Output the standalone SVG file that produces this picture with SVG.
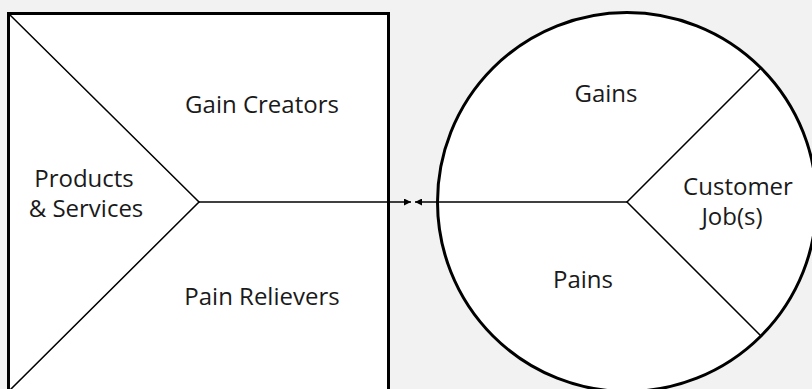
<svg xmlns="http://www.w3.org/2000/svg" width="812" height="389" viewBox="0 0 812 389">
  <defs>
    <style>
      .shape { fill: #ffffff; stroke: #000000; stroke-width: 3; }
      .line { fill: none; stroke: #000000; stroke-width: 1.5; }
      .lbl { font-family: "Open Sans", "Noto Sans", "Liberation Sans", sans-serif; font-size: 24px; fill: #1a1a1a; text-anchor: middle; }
    </style>
    <marker id="arrow" viewBox="0 0 10 10" refX="10" refY="5" markerWidth="7" markerHeight="7" markerUnits="userSpaceOnUse" orient="auto">
      <path d="M0,0 L10,5 L0,10 Z" fill="#000000"/>
    </marker>
  </defs>
  <rect x="0" y="0" width="812" height="389" fill="#f2f2f2"/>

  <g id="value-map">
    <rect class="shape" x="8.5" y="13.5" width="380" height="380"/>
    <path class="line" d="M8.5,13.5 L199,202 L8.5,391.5"/>
    <text class="lbl" x="262" y="113">Gain Creators</text>
    <text class="lbl" x="262" y="305">Pain Relievers</text>
    <text class="lbl" x="84" y="187">Products</text>
    <text class="lbl" x="86" y="217">&amp; Services</text>
  </g>

  <g id="customer-profile">
    <circle class="shape" cx="627" cy="202" r="189.5"/>
    <path class="line" d="M761,68 L627,202 L761,336"/>
    <text class="lbl" x="606" y="102">Gains</text>
    <text class="lbl" x="583" y="288">Pains</text>
    <text class="lbl" x="738" y="195">Customer</text>
    <text class="lbl" x="732" y="225">Job(s)</text>
  </g>

  <g id="connectors">
    <line class="line" x1="199" y1="202" x2="411" y2="202" marker-end="url(#arrow)"/>
    <line class="line" x1="627" y1="202" x2="415" y2="202" marker-end="url(#arrow)"/>
  </g>
</svg>
